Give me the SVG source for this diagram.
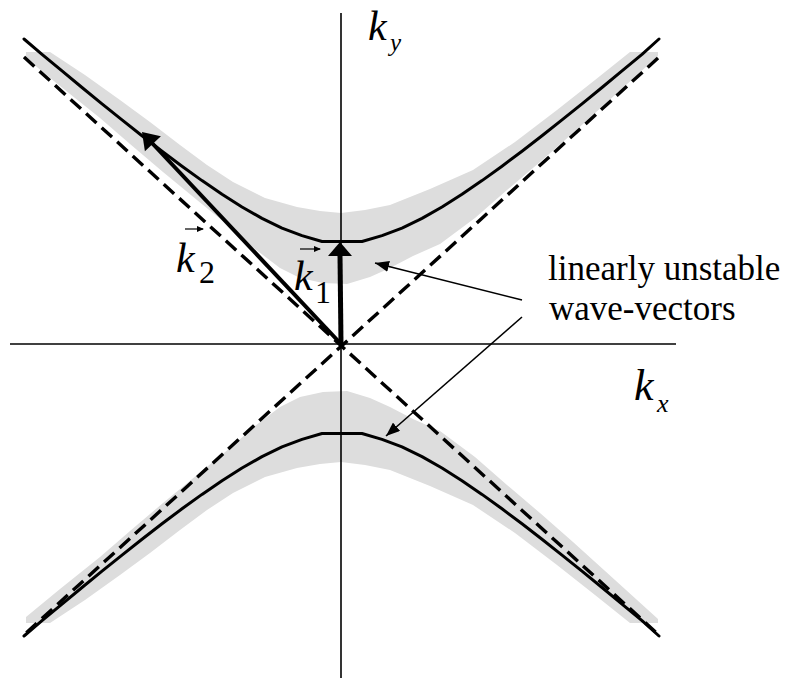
<svg xmlns="http://www.w3.org/2000/svg" width="797" height="680" viewBox="0 0 797 680">
  <style>
    .band { fill: #dddddd; stroke: none; }
    .curve { fill: none; stroke: #000; stroke-width: 3; stroke-linejoin: round; stroke-linecap: round; }
    .axis { stroke: #000; stroke-width: 1.6; fill: none; }
    .dash { stroke: #000; stroke-width: 3.4; stroke-dasharray: 14 7; fill: none; }
    .vec { stroke: #000; fill: none; }
    .head { fill: #000; stroke: none; }
    .ptr { stroke: #000; stroke-width: 1.6; fill: none; }
    .lbl { font-family: "Liberation Serif", "Times New Roman", serif; fill: #000; }
    .it { font-style: italic; }
  </style>
  <defs>
    <marker id="ptrHead" markerUnits="userSpaceOnUse" markerWidth="15" markerHeight="11" refX="14" refY="5.5" orient="auto">
      <path d="M0,0 L14,5.5 L0,11 Z" fill="#000"/>
    </marker>
    <marker id="tinyHead" markerUnits="userSpaceOnUse" markerWidth="7" markerHeight="6" refX="6" refY="3" orient="auto">
      <path d="M0,0 L7,3 L0,6 Z" fill="#000"/>
    </marker>
    <polygon id="bandShape" points="26,52 50,52 85,75 120,100 150,122 180,145 207,165 233,182 265,198 297,207 320,211 341,213 365,210 390,205 430,189 473,170 515,142 557,110 595,80 630,52 658,52 658,56 615,95 573,133 540,162 507,190 475,218 440,244 413,256 390,268 370,277 347,284 323,283 300,278 280,268 255,249 230,227 197,200 163,172 130,144 100,118 60,86 26,58"/>
    <polyline id="curveShape" points="24,39 42,54.3 62,70.9 82,87.5 102,103.8 122,119.9 142,135.7 162,151.2 182,166.2 202,180.6 222,194.3 242,207 262,218.4 282,228.1 302,235.6 322,241.5 362,241.5 382,235.6 402,228.1 422,218.4 442,207 462,194.3 482,180.6 502,166.2 522,151.2 542,135.7 562,119.9 582,103.8 602,87.5 622,70.9 642,54.3 659,39"/>
  </defs>

  <g id="bands">
    <use href="#bandShape" class="band"/>
    <use href="#bandShape" class="band" transform="matrix(1 0 0 -1 0 675)"/>
  </g>

  <g id="axes">
    <line class="axis" x1="10" y1="344" x2="676" y2="344"/>
    <line class="axis" x1="341" y1="13" x2="341" y2="678"/>
  </g>

  <g id="asymptotes">
    <line class="dash" x1="24" y1="57" x2="660" y2="636"/>
    <line class="dash" x1="658" y1="58" x2="25" y2="634"/>
  </g>

  <g id="curves">
    <use href="#curveShape" class="curve"/>
    <use href="#curveShape" class="curve" transform="matrix(1 0 0 -1 0 675)"/>
  </g>

  <g id="vector-k2">
    <line class="vec" x1="341" y1="344" x2="152" y2="143" stroke-width="4"/>
    <polygon class="head" points="142,132 160.9,136.2 144.9,151.2"/>
  </g>

  <g id="vector-k1">
    <line class="vec" x1="341" y1="344" x2="340" y2="255" stroke-width="5"/>
    <polygon class="head" points="340,242 352,256 328,256"/>
  </g>

  <g id="connectors">
    <line class="ptr" x1="522" y1="300" x2="375" y2="263" marker-end="url(#ptrHead)"/>
    <line class="ptr" x1="522" y1="317" x2="386" y2="436" marker-end="url(#ptrHead)"/>
  </g>

  <g id="label-ky">
    <text class="lbl it" x="368" y="40" font-size="42">k</text>
    <text class="lbl it" x="390" y="51" font-size="25">y</text>
  </g>

  <g id="label-kx">
    <text class="lbl it" x="634" y="400" font-size="44">k</text>
    <text class="lbl it" x="657" y="412" font-size="26">x</text>
  </g>

  <g id="label-k2">
    <line class="vec" x1="185" y1="229" x2="203" y2="229" stroke-width="1.2" marker-end="url(#tinyHead)"/>
    <text class="lbl it" x="176" y="272" font-size="42">k</text>
    <text class="lbl" x="199" y="283" font-size="32">2</text>
  </g>

  <g id="label-k1">
    <line class="vec" x1="300" y1="249" x2="320" y2="249" stroke-width="1.2" marker-end="url(#tinyHead)"/>
    <text class="lbl it" x="294" y="290" font-size="42">k</text>
    <text class="lbl" x="315" y="303" font-size="32">1</text>
  </g>

  <g id="label-unstable">
    <text class="lbl" x="548" y="280" font-size="35">linearly unstable</text>
    <text class="lbl" x="549" y="320" font-size="35">wave-vectors</text>
  </g>
</svg>
